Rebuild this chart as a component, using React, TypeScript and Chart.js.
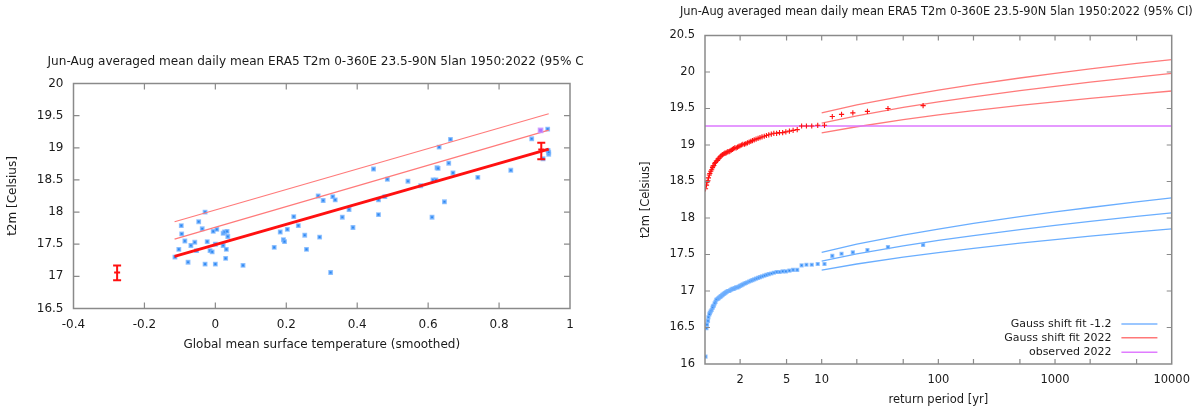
import React, { useEffect, useRef } from 'react';
import { Chart, registerables } from 'chart.js';

Chart.register(...registerables);

const FONT_FAMILY = '"DejaVu Sans", Verdana, sans-serif';
const TEXT_COLOR = '#1a1a1a';
const FRAME_COLOR = '#8a8a8a';

const PANEL_TITLE = 'Jun-Aug averaged mean daily mean ERA5 T2m 0-360E 23.5-90N 5lan 1950:2022 (95% CI)';

// ---------- Left panel: T2m vs smoothed GMST ----------
const GMST_X_TICKS = [-0.4, -0.2, 0, 0.2, 0.4, 0.6, 0.8, 1];
const LEFT_Y_TICKS = [16.5, 17, 17.5, 18, 18.5, 19, 19.5, 20];
const GMST_SMOOTHED = [
  -0.114, -0.103, -0.096, -0.095, -0.086, -0.077, -0.069, -0.058, -0.053, -0.047,
  -0.037, -0.029, -0.029, -0.023, -0.015, -0.009, -0.006, 0.0, 0.004, 0.0,
  0.022, 0.026, 0.029, 0.031, 0.033, 0.035, 0.022, 0.078, 0.166, 0.183,
  0.192, 0.195, 0.203, 0.221, 0.234, 0.252, 0.257, 0.29, 0.294, 0.304,
  0.325, 0.331, 0.338, 0.358, 0.377, 0.388, 0.446, 0.46, 0.46, 0.478,
  0.485, 0.543, 0.579, 0.611, 0.614, 0.622, 0.625, 0.628, 0.631, 0.646,
  0.658, 0.663, 0.67, 0.74, 0.833, 0.892, 0.924, 0.937, 0.938, 0.94, 0.94,
];
const T2M_SUMMER = [
  17.3, 17.42, 17.79, 17.66, 17.55, 17.22, 17.48, 17.53, 17.4, 17.85,
  17.74, 18.0, 17.19, 17.54, 17.4, 17.38, 17.7, 17.19, 17.73, 17.5,
  17.67, 17.69, 17.28, 17.42, 17.7, 17.62, 17.48, 17.17, 17.45, 17.69,
  17.57, 17.54, 17.73, 17.93, 17.79, 17.64, 17.42, 18.25, 17.61, 18.18,
  17.06, 18.24, 18.19, 17.92, 18.04, 17.76, 18.67, 18.19, 17.96, 18.24,
  18.51, 18.48, 18.41, 17.92, 18.5, 18.5, 18.69, 18.68, 19.01, 18.16,
  18.76, 19.13, 18.61, 18.54, 18.65, 19.14, 18.83, 19.29, 18.96, 18.9, 18.93,
];
const GMST_2022 = [0.917];
const T2M_2022 = [19.27];
const FIT_GMST = [-0.115, 0.94];
const FIT_CENTRAL = [17.31, 18.98];
const FIT_BAND_MID = [17.58, 19.275];
const FIT_BAND_UPPER = [17.85, 19.53];
const ERRBAR_GMST = [-0.277, 0.919];
const ERRBAR_CENTER = [17.06, 18.975];
const ERRBAR_LOW = [16.94, 18.82];
const ERRBAR_HIGH = [17.17, 19.08];

// ---------- Right panel: return periods ----------
const RP_X_TICKS = [1, 2, 5, 10, 20, 50, 100, 200, 500, 1000, 2000, 5000, 10000];
const RP_X_LABELS = [2, 5, 10, 100, 1000, 10000];
const RP_Y_TICKS = [16, 16.5, 17, 17.5, 18, 18.5, 19, 19.5, 20, 20.5];
const RETURN_PERIODS = [
  74, 37, 24.67, 18.5, 14.8, 12.33, 10.57, 9.25, 8.22, 7.4,
  6.73, 6.17, 5.69, 5.29, 4.93, 4.63, 4.35, 4.11, 3.89, 3.7,
  3.52, 3.36, 3.22, 3.08, 2.96, 2.85, 2.74, 2.64, 2.55, 2.47,
  2.39, 2.31, 2.24, 2.18, 2.11, 2.06, 2.0, 1.95, 1.9, 1.85,
  1.8, 1.76, 1.72, 1.68, 1.64, 1.61, 1.57, 1.54, 1.51, 1.48,
  1.45, 1.42, 1.4, 1.37, 1.35, 1.32, 1.3, 1.28, 1.25, 1.23,
  1.21, 1.19, 1.17, 1.16, 1.14, 1.12, 1.1, 1.09, 1.07, 1.06,
  1.04, 1.03, 1.01,
];
const OBS_SHIFTED_2022 = [
  19.54, 19.5, 19.46, 19.44, 19.42, 19.39, 19.27, 19.27, 19.26, 19.26,
  19.26, 19.21, 19.2, 19.19, 19.18, 19.17, 19.17, 19.16, 19.16, 19.15,
  19.14, 19.13, 19.12, 19.11, 19.1, 19.09, 19.08, 19.07, 19.06, 19.05,
  19.04, 19.03, 19.02, 19.01, 19.01, 19.0, 18.99, 18.98, 18.97, 18.96,
  18.96, 18.95, 18.94, 18.93, 18.92, 18.91, 18.91, 18.9, 18.89, 18.89,
  18.88, 18.87, 18.86, 18.85, 18.84, 18.82, 18.81, 18.79, 18.78, 18.76,
  18.75, 18.72, 18.71, 18.69, 18.66, 18.64, 18.61, 18.59, 18.55, 18.51,
  18.49, 18.45, 18.4,
];
const OBS_SHIFTED_COLD = [
  17.63, 17.6, 17.56, 17.53, 17.51, 17.48, 17.37, 17.37, 17.36, 17.36,
  17.35, 17.29, 17.29, 17.28, 17.27, 17.27, 17.26, 17.26, 17.25, 17.24,
  17.23, 17.22, 17.21, 17.2, 17.19, 17.18, 17.17, 17.16, 17.15, 17.14,
  17.13, 17.12, 17.11, 17.1, 17.09, 17.08, 17.07, 17.06, 17.05, 17.05,
  17.04, 17.03, 17.03, 17.02, 17.01, 17.0, 17.0, 16.99, 16.98, 16.97,
  16.96, 16.95, 16.94, 16.93, 16.92, 16.91, 16.9, 16.89, 16.88, 16.85,
  16.83, 16.8, 16.79, 16.77, 16.74, 16.72, 16.7, 16.68, 16.64, 16.59,
  16.54, 16.49, 16.1,
];
const FIT_RP = [10, 20, 50, 100, 200, 500, 1000, 2000, 5000, 10000];
const FIT2022_LOW = [19.165, 19.25, 19.348, 19.412, 19.471, 19.542, 19.592, 19.64, 19.698, 19.74];
const FIT2022_MID = [19.3, 19.4, 19.515, 19.59, 19.66, 19.745, 19.804, 19.86, 19.93, 19.98];
const FIT2022_HIGH = [19.44, 19.549, 19.671, 19.753, 19.828, 19.918, 19.982, 20.042, 20.117, 20.17];
const FITCOLD_LOW = [17.285, 17.37, 17.464, 17.527, 17.585, 17.655, 17.704, 17.751, 17.809, 17.85];
const FITCOLD_MID = [17.41, 17.508, 17.619, 17.693, 17.76, 17.842, 17.9, 17.954, 18.022, 18.07];
const FITCOLD_HIGH = [17.53, 17.641, 17.766, 17.849, 17.925, 18.018, 18.083, 18.144, 18.22, 18.275];
const OBS_LINE_RP = [1, 10000];
const OBS_LINE_T2M = [19.26, 19.26];
const LEGEND_LABELS = ['Gauss shift fit -1.2', 'Gauss shift fit 2022', 'observed 2022'];
const LEGEND_COLORS = ['#7ab4ff', '#ff7878', '#e07cff'];

const BLUE_FILL = '#2a86f0';
const BLUE_HALO = 'rgba(120,180,255,0.75)';
const RED = '#ff1010';
const RED_FIT = '#ff7a7a';
const BLUE_FIT = '#6aaeff';

function pairs(xs: number[], ys: number[]) {
  return xs.map((x, i) => ({ x, y: ys[i] }));
}

function framePlugin(tickLen: number) {
  return {
    id: 'gnuFrame',
    afterDatasetsDraw(chart: any) {
      const { ctx, chartArea: a, scales } = chart;
      const xs = scales.x;
      const ys = scales.y;
      ctx.save();
      ctx.strokeStyle = FRAME_COLOR;
      ctx.lineWidth = 1.2;
      ctx.beginPath();
      xs.ticks.forEach((t: any) => {
        const p = xs.getPixelForValue(t.value);
        if (p <= a.left + 0.5 || p >= a.right - 0.5) return;
        ctx.moveTo(p, a.bottom);
        ctx.lineTo(p, a.bottom - tickLen);
        ctx.moveTo(p, a.top);
        ctx.lineTo(p, a.top + tickLen);
      });
      ys.ticks.forEach((t: any) => {
        const p = ys.getPixelForValue(t.value);
        if (p <= a.top + 0.5 || p >= a.bottom - 0.5) return;
        ctx.moveTo(a.left, p);
        ctx.lineTo(a.left + tickLen, p);
        ctx.moveTo(a.right, p);
        ctx.lineTo(a.right - tickLen, p);
      });
      ctx.stroke();
      ctx.lineWidth = 1.5;
      ctx.strokeRect(a.left, a.top, a.right - a.left, a.bottom - a.top);
      ctx.restore();
    },
  };
}

function titlePlugin(text: string, y: number, size: number, shift: number) {
  return {
    id: 'gnuTitle',
    afterDraw(chart: any) {
      const { ctx, chartArea: a } = chart;
      ctx.save();
      ctx.fillStyle = TEXT_COLOR;
      ctx.font = `${size}px ${FONT_FAMILY}`;
      ctx.textAlign = 'center';
      ctx.textBaseline = 'middle';
      ctx.fillText(text, (a.left + a.right) / 2 + shift, y);
      ctx.restore();
    },
  };
}

const errorBarPlugin = {
  id: 'gnuErrorBars',
  afterDatasetsDraw(chart: any) {
    const { ctx, scales } = chart;
    ctx.save();
    ctx.strokeStyle = RED;
    ctx.lineWidth = 2;
    ctx.beginPath();
    ERRBAR_GMST.forEach((gx, i) => {
      const px = scales.x.getPixelForValue(gx);
      const lo = scales.y.getPixelForValue(ERRBAR_LOW[i]);
      const hi = scales.y.getPixelForValue(ERRBAR_HIGH[i]);
      const c = scales.y.getPixelForValue(ERRBAR_CENTER[i]);
      ctx.moveTo(px, lo);
      ctx.lineTo(px, hi);
      ctx.moveTo(px - 4, lo);
      ctx.lineTo(px + 4, lo);
      ctx.moveTo(px - 4, hi);
      ctx.lineTo(px + 4, hi);
      ctx.moveTo(px - 3, c);
      ctx.lineTo(px + 3, c);
    });
    ctx.stroke();
    ctx.restore();
  },
};

const legendPlugin = {
  id: 'gnuLegend',
  afterDraw(chart: any) {
    const { ctx, chartArea: a } = chart;
    const rows = [a.bottom - 40, a.bottom - 26.3, a.bottom - 11.7];
    ctx.save();
    ctx.font = `11px ${FONT_FAMILY}`;
    ctx.textAlign = 'right';
    ctx.textBaseline = 'middle';
    LEGEND_LABELS.forEach((label, i) => {
      ctx.fillStyle = TEXT_COLOR;
      ctx.fillText(label, a.right - 60.3, rows[i]);
      ctx.strokeStyle = LEGEND_COLORS[i];
      ctx.lineWidth = 1.5;
      ctx.beginPath();
      ctx.moveTo(a.right - 50.3, rows[i]);
      ctx.lineTo(a.right - 14.3, rows[i]);
      ctx.stroke();
    });
    ctx.restore();
  },
};

function leftConfig(): any {
  const tickFont = { family: FONT_FAMILY, size: 12 };
  return {
    type: 'scatter',
    data: {
      datasets: [
        { data: pairs(GMST_2022, T2M_2022), pointStyle: 'rect', pointRadius: 3, backgroundColor: '#b070ff', borderColor: 'rgba(200,150,255,0.8)', borderWidth: 1.5, order: 0 },
        { data: pairs(FIT_GMST, FIT_CENTRAL), showLine: true, borderColor: RED, borderWidth: 3, pointRadius: 0, order: 1 },
        { data: pairs(FIT_GMST, FIT_BAND_MID), showLine: true, borderColor: RED_FIT, borderWidth: 1.2, pointRadius: 0, order: 2 },
        { data: pairs(FIT_GMST, FIT_BAND_UPPER), showLine: true, borderColor: RED_FIT, borderWidth: 1.2, pointRadius: 0, order: 3 },
        { data: pairs(GMST_SMOOTHED, T2M_SUMMER), pointStyle: 'rect', pointRadius: 2.3, backgroundColor: BLUE_FILL, borderColor: BLUE_HALO, borderWidth: 1.6, order: 4 },
      ],
    },
    options: {
      animation: false,
      responsive: false,
      events: [],
      layout: { padding: { left: 0, right: 14, top: 83.5, bottom: 0 } },
      plugins: { legend: { display: false }, tooltip: { enabled: false }, title: { display: false } },
      scales: {
        x: {
          type: 'linear', min: -0.4, max: 1,
          afterBuildTicks: (s: any) => { s.ticks = GMST_X_TICKS.map((v) => ({ value: v })); },
          afterFit: (s: any) => { s.height = 104.5; },
          grid: { display: false, drawTicks: false },
          border: { display: false },
          ticks: { padding: 9.5, color: TEXT_COLOR, font: tickFont, maxRotation: 0, autoSkip: false, callback: (v: any) => String(v) },
          title: { display: true, text: 'Global mean surface temperature (smoothed)', color: TEXT_COLOR, font: tickFont, padding: { top: 0, bottom: 60.5 } },
        },
        y: {
          type: 'linear', min: 16.5, max: 20,
          afterBuildTicks: (s: any) => { s.ticks = LEFT_Y_TICKS.map((v) => ({ value: v })); },
          afterFit: (s: any) => { s.width = 73.5; },
          grid: { display: false, drawTicks: false },
          border: { display: false },
          ticks: { padding: 10, color: TEXT_COLOR, font: tickFont, autoSkip: false, callback: (v: any) => String(v) },
          title: { display: true, text: 't2m [Celsius]', color: TEXT_COLOR, font: tickFont, padding: { top: 6, bottom: 0 } },
        },
      },
    },
    plugins: [framePlugin(6), titlePlugin(PANEL_TITLE, 61.5, 12.1, -2), errorBarPlugin],
  };
}

function rightConfig(): any {
  const tickFont = { family: FONT_FAMILY, size: 11.5 };
  return {
    type: 'scatter',
    data: {
      datasets: [
        { data: pairs(OBS_LINE_RP, OBS_LINE_T2M), showLine: true, borderColor: '#dd77ff', borderWidth: 1.5, pointRadius: 0, order: 3 },
        { data: pairs(RETURN_PERIODS, OBS_SHIFTED_2022), pointStyle: 'cross', pointRadius: 2.6, borderColor: RED, borderWidth: 1.1, order: 1 },
        { data: pairs(RETURN_PERIODS, OBS_SHIFTED_COLD), pointStyle: 'rect', pointRadius: 1.9, backgroundColor: BLUE_FILL, borderColor: BLUE_HALO, borderWidth: 1.5, order: 2 },
        { data: pairs(FIT_RP, FIT2022_LOW), showLine: true, borderColor: RED_FIT, borderWidth: 1.3, pointRadius: 0, order: 4 },
        { data: pairs(FIT_RP, FIT2022_MID), showLine: true, borderColor: RED_FIT, borderWidth: 1.3, pointRadius: 0, order: 4 },
        { data: pairs(FIT_RP, FIT2022_HIGH), showLine: true, borderColor: RED_FIT, borderWidth: 1.3, pointRadius: 0, order: 4 },
        { data: pairs(FIT_RP, FITCOLD_LOW), showLine: true, borderColor: BLUE_FIT, borderWidth: 1.3, pointRadius: 0, order: 4 },
        { data: pairs(FIT_RP, FITCOLD_MID), showLine: true, borderColor: BLUE_FIT, borderWidth: 1.3, pointRadius: 0, order: 4 },
        { data: pairs(FIT_RP, FITCOLD_HIGH), showLine: true, borderColor: BLUE_FIT, borderWidth: 1.3, pointRadius: 0, order: 4 },
      ],
    },
    options: {
      animation: false,
      responsive: false,
      events: [],
      layout: { padding: { left: 0, right: 26, top: 35.5, bottom: 0 } },
      plugins: { legend: { display: false }, tooltip: { enabled: false }, title: { display: false } },
      scales: {
        x: {
          type: 'logarithmic', min: 1, max: 10000,
          afterBuildTicks: (s: any) => { s.ticks = RP_X_TICKS.map((v) => ({ value: v })); },
          afterFit: (s: any) => { s.height = 49; },
          grid: { display: false, drawTicks: false },
          border: { display: false },
          ticks: { padding: 9, color: TEXT_COLOR, font: tickFont, maxRotation: 0, autoSkip: false, callback: (v: any) => (RP_X_LABELS.includes(Number(v)) ? String(v) : '') },
          title: { display: true, text: 'return period [yr]', color: TEXT_COLOR, font: tickFont, padding: { top: 0, bottom: 6.5 } },
        },
        y: {
          type: 'linear', min: 16, max: 20.5,
          afterBuildTicks: (s: any) => { s.ticks = RP_Y_TICKS.map((v) => ({ value: v })); },
          afterFit: (s: any) => { s.width = 105; },
          grid: { display: false, drawTicks: false },
          border: { display: false },
          ticks: { padding: 10, color: TEXT_COLOR, font: tickFont, autoSkip: false, callback: (v: any) => String(v) },
          title: { display: true, text: 't2m [Celsius]', color: TEXT_COLOR, font: tickFont, padding: { top: 39, bottom: 0 } },
        },
      },
    },
    plugins: [framePlugin(5), titlePlugin(PANEL_TITLE, 12.5, 11.4, -2), legendPlugin],
  };
}

export default function App() {
  const leftRef = useRef<HTMLCanvasElement>(null);
  const rightRef = useRef<HTMLCanvasElement>(null);

  useEffect(() => {
    const left = new Chart(leftRef.current as HTMLCanvasElement, leftConfig());
    const right = new Chart(rightRef.current as HTMLCanvasElement, rightConfig());
    return () => {
      left.destroy();
      right.destroy();
    };
  }, []);

  return (
    <div style={{ position: 'fixed', left: 0, top: 0, width: 1199, height: 413, background: '#fff', overflow: 'hidden' }}>
      <div style={{ position: 'absolute', left: 0, top: 0, width: 584, height: 413 }}>
        <canvas ref={leftRef} width={584} height={413} style={{ width: 584, height: 413, display: 'block' }} />
      </div>
      <div style={{ position: 'absolute', left: 600, top: 0, width: 599, height: 413 }}>
        <canvas ref={rightRef} width={599} height={413} style={{ width: 599, height: 413, display: 'block' }} />
      </div>
    </div>
  );
}
